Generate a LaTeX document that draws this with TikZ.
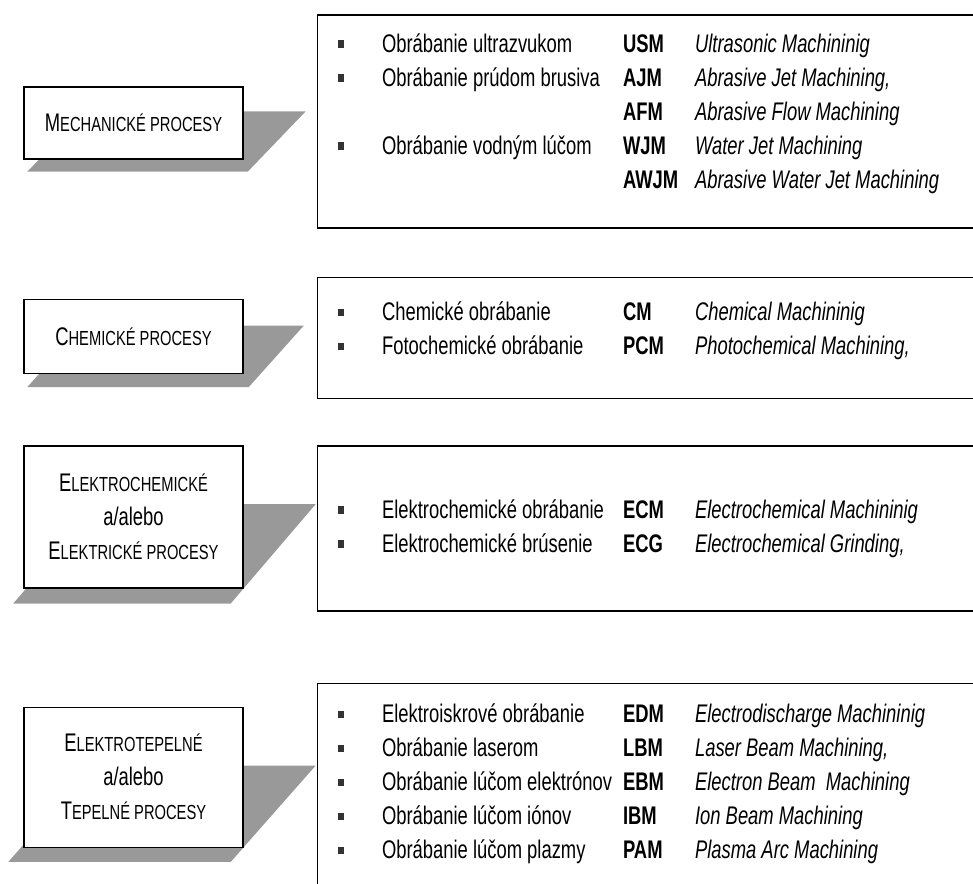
\documentclass[tikz,border=0pt]{standalone}
\usepackage{fontspec}
\setmainfont{Liberation Sans}[FakeStretch=0.722]
\usepackage{tikz}
\usetikzlibrary{positioning, calc, backgrounds}
\tikzstyle{procbox} = [rectangle, minimum width=4.38cm, text centered, align=center, draw=black, fill=white, thick]
\tikzstyle{listbox} = [rectangle, minimum width=13.48cm, draw=black, fill=white, thick]
\tikzstyle{rows} = [anchor=base west, inner sep=0pt]
\tikzstyle{shadowfill} = [fill=black!40]
\newcommand{\fakesc}[2]{#1{\fontsize{11.6}{12}\selectfont #2}}
\newcommand{\sqbullet}{\textcolor{black!80}{\rule[0.09cm]{0.12cm}{0.15cm}}}

\begin{document}
\begin{tikzpicture}[font=\fontsize{14.5}{19.35}\selectfont]
\useasboundingbox (0,0) rectangle (19.46,-17.66);

% Process groups (left)
\node (mech) [procbox, minimum height=1.44cm] at (2.67,-2.46) {\fakesc{M}{ECHANICKÉ PROCESY}};
\node (chem) [procbox, minimum height=1.48cm, below=2.78cm of mech] {\fakesc{C}{HEMICKÉ PROCESY}};
\node (elchem) [procbox, minimum height=2.84cm, below=1.42cm of chem] {
    \fakesc{E}{LEKTROCHEMICKÉ}\\
    a/alebo\\
    \fakesc{E}{LEKTRICKÉ PROCESY}
};
\node (elterm) [procbox, minimum height=2.80cm, below=2.36cm of elchem] {
    \fakesc{E}{LEKTROTEPELNÉ}\\
    a/alebo\\
    \fakesc{T}{EPELNÉ PROCESY}
};

% Method lists (right)
\node (mechlist) [listbox, minimum height=4.26cm, right=1.46cm of mech, yshift=0.03cm] {};
\node (chemlist) [listbox, minimum height=2.42cm, right=1.46cm of chem, yshift=-0.03cm] {};
\node (elchemlist) [listbox, minimum height=3.30cm, right=1.46cm of elchem, yshift=-0.23cm] {};
\node (eltermlist) [listbox, minimum height=4.42cm, right=1.46cm of elterm, yshift=-0.33cm] {};

\node (mechrows) [rows] at ($(mechlist.north west)+(0.42,-0.76)$) {
\begin{tabular}[t]{@{}p{0.88cm}@{}p{4.82cm}@{}p{1.44cm}@{}l@{}}
\sqbullet & Obrábanie ultrazvukom & \textbf{USM} & \textit{Ultrasonic Machininig}\\
\sqbullet & Obrábanie prúdom brusiva & \textbf{AJM} & \textit{Abrasive Jet Machining,}\\
 & & \textbf{AFM} & \textit{Abrasive Flow Machining}\\
\sqbullet & Obrábanie vodným lúčom & \textbf{WJM} & \textit{Water Jet Machining}\\
 & & \textbf{AWJM} & \textit{Abrasive Water Jet Machining}
\end{tabular}};
\node (chemrows) [rows] at ($(chemlist.north west)+(0.42,-0.88)$) {
\begin{tabular}[t]{@{}p{0.88cm}@{}p{4.82cm}@{}p{1.44cm}@{}l@{}}
\sqbullet & Chemické obrábanie & \textbf{CM} & \textit{Chemical Machininig}\\
\sqbullet & Fotochemické obrábanie & \textbf{PCM} & \textit{Photochemical Machining,}
\end{tabular}};
\node (elchemrows) [rows] at ($(elchemlist.north west)+(0.42,-1.46)$) {
\begin{tabular}[t]{@{}p{0.88cm}@{}p{4.82cm}@{}p{1.44cm}@{}l@{}}
\sqbullet & Elektrochemické obrábanie & \textbf{ECM} & \textit{Electrochemical Machininig}\\
\sqbullet & Elektrochemické brúsenie & \textbf{ECG} & \textit{Electrochemical Grinding,}
\end{tabular}};
\node (eltermrows) [rows] at ($(eltermlist.north west)+(0.42,-0.80)$) {
\begin{tabular}[t]{@{}p{0.88cm}@{}p{4.82cm}@{}p{1.44cm}@{}l@{}}
\sqbullet & Elektroiskrové obrábanie & \textbf{EDM} & \textit{Electrodischarge Machininig}\\
\sqbullet & Obrábanie laserom & \textbf{LBM} & \textit{Laser Beam Machining,}\\
\sqbullet & Obrábanie lúčom elektrónov & \textbf{EBM} & \textit{Electron Beam\ \ Machining}\\
\sqbullet & Obrábanie lúčom iónov & \textbf{IBM} & \textit{Ion Beam Machining}\\
\sqbullet & Obrábanie lúčom plazmy & \textbf{PAM} & \textit{Plasma Arc Machining}
\end{tabular}};

% Shadows
\begin{scope}[on background layer]
\fill[shadowfill] ($(mech.south west)+(0.08,-0.24)$) -- ($(mech.south east)+(0.08,-0.24)$) -- ($(mech.north east)+(1.24,-0.50)$) -- ($(mech.north west)+(1.24,-0.50)$) -- cycle;
\fill[shadowfill] ($(chem.south west)+(0.08,-0.26)$) -- ($(chem.south east)+(0.10,-0.26)$) -- ($(chem.north east)+(1.20,-0.54)$) -- ($(chem.north west)+(1.18,-0.54)$) -- cycle;
\fill[shadowfill] ($(elchem.south west)+(-0.20,-0.30)$) -- ($(elchem.south east)+(-0.26,-0.30)$) -- ($(elchem.north east)+(1.44,-1.18)$) -- ($(elchem.north west)+(1.50,-1.18)$) -- cycle;
\fill[shadowfill] ($(elterm.south west)+(-0.30,-0.28)$) -- ($(elterm.south east)+(-0.26,-0.28)$) -- ($(elterm.north east)+(1.44,-1.18)$) -- ($(elterm.north west)+(1.40,-1.18)$) -- cycle;
\end{scope}

\end{tikzpicture}
\end{document}
